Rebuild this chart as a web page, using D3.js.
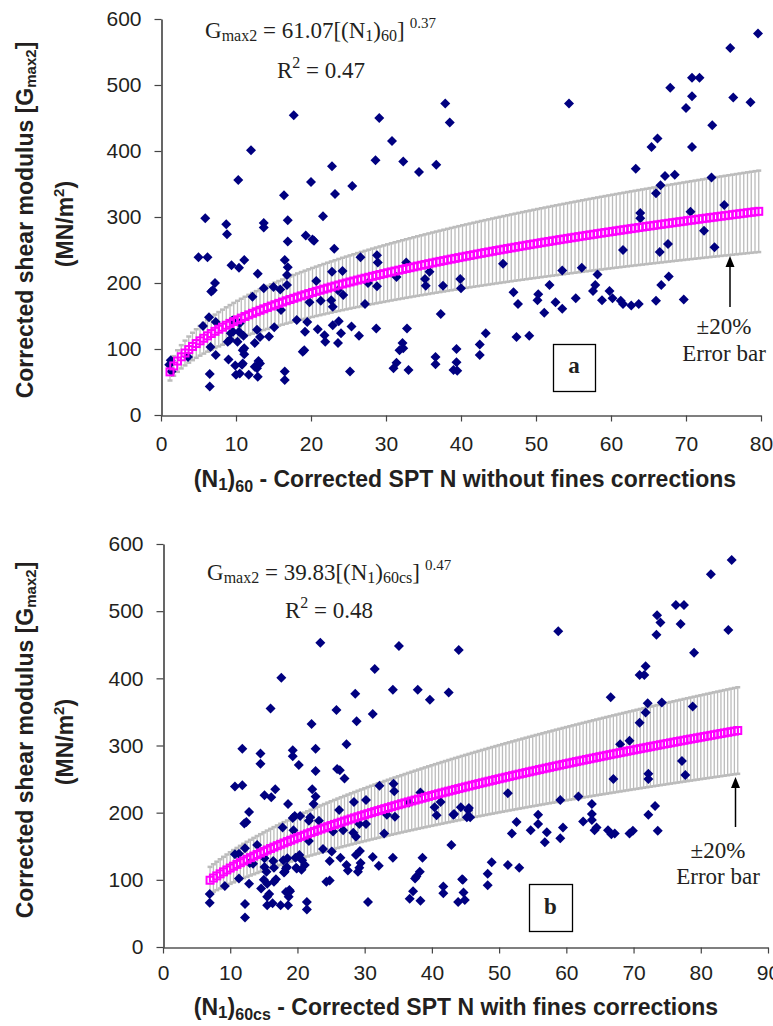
<!DOCTYPE html>
<html>
<head>
<meta charset="utf-8">
<script src="https://cdn.jsdelivr.net/npm/d3@7"></script>
<style>
  body { margin: 0; background: #fff; }
  svg { display: block; }
</style>
</head>
<body>
<svg id="chart" width="773" height="1026"></svg>
<script>
// ---- Data -------------------------------------------------------------
// Panel (a): (N1)60 vs corrected shear modulus Gmax2 (MN/m2)
const pointsA = [
  [5.9,298],[17.7,454],[12.0,401],[10.3,356],[16.4,333],[20.0,353],[22.8,377],[23.2,335],[25.5,347],[21.6,301],
  [28.6,386],[29.1,450],[30.8,415],[32.3,384],[34.4,368],[36.7,379],[37.9,472],[38.5,443],
  [54.4,472],[67.9,496],[70.8,511],[71.8,511],[70.8,483],[70.0,465],[75.9,556],[79.6,578],[76.3,481],[78.6,474],
  [73.5,439],[66.2,419],[65.4,406],[70.8,406],[63.3,373],[67.2,362],[68.5,364],[66.6,348],[66.0,336],[73.4,360],
  [75.1,318],[63.9,306],[63.9,298],[70.6,308],
  [72.4,279],[61.6,250],[66.5,247],[67.6,259],[73.8,254],[45.6,229],[39.9,206],[40.0,192],[53.5,219],[56.1,223],
  [58.2,213],[57.9,197],[57.6,188],[47.0,186],[47.6,168],[50.3,183],[50.2,174],[51.8,197],[51.1,155],[52.6,171],
  [53.5,161],[55.3,177],[58.8,174],[59.8,188],[60.2,177],[61.3,173],[61.6,168],[62.7,166],[63.7,168],[66.0,173],
  [66.7,197],[67.7,210],[69.7,175],[43.3,124],[42.5,107],[42.5,91],[47.4,118],[49.1,120],[39.4,100],[39.4,80],
  [39.0,68],[39.5,67],
  [8.7,289],[8.8,274],[13.7,291],[13.7,284],[16.9,295],[16.9,263],[19.3,272],[20.2,266],[20.4,264],[5.0,239],
  [6.2,239],[9.4,227],[10.4,223],[11.1,235],[16.5,235],[16.9,224],[12.9,214],[16.8,212],[23.1,252],[26.6,239],
  [28.8,242],[28.9,231],[20.7,203],[22.8,217],[24.2,218],[7.2,200],[6.7,187],[6.9,189],[13.7,192],[15.0,194],
  [15.9,190],[16.8,197],[12.2,179],[16.0,159],[19.8,171],[21.3,173],[22.7,174],[22.9,164],[23.6,189],[24.3,182],
  [27.2,168],[27.6,200],[28.8,195],[31.4,209],[32.7,231],[35.2,206],[35.3,196],[35.8,217],[37.6,196],[37.3,153],
  [5.6,135],[6.4,148],[7.3,141],[9.5,143],[9.6,126],[10.5,139],[10.4,126],[9.2,114],[10.2,111],[11.0,120],
  [12.8,129],[13.2,118],[14.4,119],[15.1,133],[18.1,144],[19.5,141],[19.2,126],[18.9,96],[19.1,98],[20.9,130],
  [21.8,121],[21.9,111],[22.9,136],[23.7,142],[24.0,124],[23.6,109],[25.4,134],[26.4,120],[28.7,131],[32.8,131],
  [32.2,109],[32.3,101],[31.8,98],[31.4,79],[31.0,71],[33.0,68],[25.2,66],[36.6,88],[36.6,77],
  [6.6,103],[7.3,91],[9.0,84],[9.9,75],[10.9,78],[11.1,92],[11.1,101],[10.0,61],[10.5,63],[11.7,61],
  [12.9,58],[12.8,71],[13.2,78],[6.5,62],[6.5,43],[16.5,66],[16.5,53],[1.4,66],[1.1,76],[1.3,83],
  [3.6,88],[8.9,111],[9.3,124],[10.9,98],[10.8,76],[12.5,73],[12.5,109],[13.0,82]
];

// Panel (b): (N1)60cs vs corrected shear modulus Gmax2 (MN/m2)
const pointsB = [
  [23.4,453],[17.6,401],[16.0,355],[22.1,332],[25.8,353],[28.6,377],[28.8,336],[31.2,347],[31.5,414],[35.1,448],
  [34.2,383],[37.9,383],[39.7,368],[42.5,379],[44.0,442],[27.3,302],
  [58.8,470],[84.6,576],[81.5,555],[76.3,509],[77.5,509],[77.0,481],[73.5,494],[74.0,483],[73.4,465],[84.1,472],
  [79.0,438],[71.8,418],[70.9,405],[71.6,405],[66.6,372],[72.1,363],[74.2,364],[71.8,349],[70.9,334],[78.8,358],
  [68.0,302],[69.4,307],
  [77.2,277],[77.7,256],[72.2,258],[72.2,250],[67.0,250],[51.3,229],[43.2,197],[45.5,207],[45.7,193],[59.1,219],
  [61.8,224],[63.8,213],[63.8,198],[63.8,189],[62.5,187],[64.5,178],[64.2,174],[66.2,174],[66.7,168],[67.2,169],
  [69.4,169],[69.9,173],[72.2,197],[73.2,210],[73.6,173],[52.6,186],[51.9,169],[55.8,197],[55.8,183],[54.7,174],
  [57.1,171],[56.8,156],[59.1,162],[59.5,178],[42.9,152],[48.9,126],[48.3,109],[48.3,92],[51.3,122],[53.0,118],
  [44.6,100],[44.7,81],[44.9,70],[43.9,67],
  [11.8,295],[14.5,288],[14.5,273],[19.3,293],[19.3,284],[22.7,295],[20.2,271],[22.7,262],[25.9,265],[26.3,263],
  [27.0,251],[10.7,239],[11.8,241],[15.1,226],[16.1,223],[16.7,235],[18.6,213],[22.2,235],[22.7,224],[22.4,213],
  [12.8,201],[12.4,186],[12.1,184],[17.8,178],[19.3,192],[19.6,195],[20.4,195],[21.9,193],[21.7,188],[23.2,188],
  [26.2,204],[28.4,216],[30.2,219],[32.2,240],[34.3,243],[34.4,232],[34.5,194],[33.3,197],[19.4,174],[25.3,172],
  [26.8,174],[28.3,170],[28.7,164],[21.7,158],[29.2,183],[30.2,183],[32.9,169],[36.6,215],[38.3,230],[40.4,208],
  [40.7,196],[41.3,216],[43.3,198],[44.3,208],[45.4,204],[45.2,193],
  [10.7,138],[11.3,139],[12.2,147],[14.0,152],[12.9,125],[13.4,124],[15.1,132],[16.4,128],[15.1,119],[15.4,112],
  [16.5,118],[18.5,132],[18.4,119],[18.1,112],[19.7,133],[19.8,118],[23.8,146],[25.1,142],[24.8,128],[26.4,133],
  [27.3,122],[27.5,114],[28.7,137],[29.3,143],[29.4,125],[29.2,118],[29.0,112],[31.2,134],[32.1,121],[34.2,133],
  [38.6,133],[38.2,112],[37.7,105],[37.5,102],[37.2,83],[36.7,72],[38.3,69],[41.7,90],[41.7,80],[44.5,101],
  [11.3,102],[12.8,94],[14.6,87],[15.0,100],[15.5,94],[16.5,97],[16.8,101],[15.8,79],[15.5,75],[15.5,62],
  [16.3,65],[17.5,62],[18.6,62],[18.7,75],[18.9,83],[21.4,67],[21.4,56],[12.2,64],[12.2,44],[6.95,79],
  [6.95,66],[9.2,91],[24.3,97],[24.8,99],[30.5,67],
  [20.3,137],[20.7,129],[21.1,122],[20.6,115],[17.9,129],[18.3,117],[18.0,111],[19.9,117],[18.3,82],[18.8,85]
];

// Power-law fits  Gmax2 = coef * N^exp, evaluated over the plotted N span
const fitCoef  = [61.07, 39.83];
const fitExp   = [0.37, 0.47];
const fitSpan  = [[1.2, 80], [7, 85.5]];
const fitStep  = 0.5;
const errorPct = 0.20;

// Axis ticks
const yTicks  = [0, 100, 200, 300, 400, 500, 600];
const xTicksA = [0, 10, 20, 30, 40, 50, 60, 70, 80];
const xTicksB = [0, 10, 20, 30, 40, 50, 60, 70, 80, 90];

// Text
const eqCoefText = ["61.07", "39.83"];
const eqExpText  = ["0.37", "0.47"];
const eqSubText  = ["60", "60cs"];
const r2Text     = ["0.47", "0.48"];
const panelTags  = ["a", "b"];
const xTitleRest = [" - Corrected SPT N without fines corrections", " - Corrected SPT N with fines corrections"];

// ---- Layout -----------------------------------------------------------
const layout = [
  { left: 161, right: 761, top: 19,  bottom: 415, xMax: 80, xTicks: xTicksA, xPad: 15,
    yt1: 220, yt2: 224, xtX: 465, xtY: 487, eqX: 205, eqY: 38, r2X: 277, r2Y: 78,
    box: [553, 344, 42, 47], tagY: 373, errX: 724, errY1: 334, errY2: 361, arX: 730, arTip: 256, arEnd: 307 },
  { left: 163, right: 768, top: 544, bottom: 947, xMax: 90, xTicks: xTicksB, xPad: 12,
    yt1: 740, yt2: 742, xtX: 456, xtY: 1015, eqX: 207, eqY: 580, r2X: 285, r2Y: 618,
    box: [529, 884, 43, 47], tagY: 914, errX: 718, errY1: 858, errY2: 884, arX: 735.5, arTip: 777, arEnd: 827 }
];

const SANS  = "'Liberation Sans', Arial, sans-serif";
const SERIF = "'Liberation Serif', 'Times New Roman', serif";
const INK   = "#231f20";

const svg = d3.select("#chart");

function drawPanel(i) {
  const L = layout[i];
  const pts = i === 0 ? pointsA : pointsB;
  const x = d3.scaleLinear().domain([0, L.xMax]).range([L.left, L.right]);
  const y = d3.scaleLinear().domain([0, 600]).range([L.bottom, L.top]);
  const g = svg.append("g");

  // fitted curve samples
  const fit = d3.range(fitSpan[i][0], fitSpan[i][1] + 1e-9, fitStep)
    .map(n => ({ n, g: fitCoef[i] * Math.pow(n, fitExp[i]) }));

  // ±20% error bars
  const eb = g.append("g").attr("stroke", "#bcbcbc").attr("stroke-width", 1.3);
  fit.forEach(d => {
    const cx = x(d.n), lo = y(d.g * (1 - errorPct)), hi = y(d.g * (1 + errorPct));
    eb.append("line").attr("x1", cx).attr("x2", cx).attr("y1", lo).attr("y2", hi);
    eb.append("line").attr("x1", cx - 2.5).attr("x2", cx + 2.5).attr("y1", hi).attr("y2", hi).attr("stroke-width", 2.5);
    eb.append("line").attr("x1", cx - 2.5).attr("x2", cx + 2.5).attr("y1", lo).attr("y2", lo).attr("stroke-width", 2.5);
  });

  // measured points
  g.append("g").selectAll("path").data(pts).join("path")
    .attr("d", "M0,-5L5,0L0,5L-5,0Z")
    .attr("transform", d => `translate(${x(d[0])},${y(d[1])})`)
    .attr("fill", "#000080");

  // fitted curve markers
  g.append("g").selectAll("rect").data(fit).join("rect")
    .attr("x", d => x(d.n) - 3.5).attr("y", d => y(d.g) - 3.5)
    .attr("width", 7).attr("height", 7)
    .attr("fill", "none").attr("stroke", "#ff00ff").attr("stroke-width", 2);

  // axes
  const yAxis = g.append("g").attr("transform", `translate(${L.left + 0.5},0)`)
    .call(d3.axisLeft(y).tickValues(yTicks).tickSize(7).tickSizeOuter(0).tickPadding(13));
  const xAxis = g.append("g").attr("transform", `translate(0,${L.bottom + 0.5})`)
    .call(d3.axisBottom(x).tickValues(L.xTicks).tickSize(6).tickSizeOuter(0).tickPadding(L.xPad));
  [yAxis, xAxis].forEach(ax => {
    ax.select(".domain").attr("stroke", "#000").attr("stroke-width", 1.2);
    ax.selectAll(".tick line").attr("stroke", "#444").attr("stroke-width", 1.2);
    ax.selectAll(".tick text").attr("fill", INK).style("font-family", SANS).style("font-size", "21px");
  });

  // y-axis title (two lines)
  const yt = svg.append("text").attr("transform", `translate(33,${L.yt1}) rotate(-90)`)
    .attr("text-anchor", "middle").attr("fill", INK)
    .style("font-family", SANS).style("font-weight", "bold").style("font-size", "23px");
  yt.append("tspan").text("Corrected shear modulus [G");
  yt.append("tspan").attr("dy", 3).style("font-size", "15px").text("max2");
  yt.append("tspan").attr("dy", -3).text("]");
  const yt2 = svg.append("text").attr("transform", `translate(73,${L.yt2}) rotate(-90)`)
    .attr("text-anchor", "middle").attr("fill", INK)
    .style("font-family", SANS).style("font-weight", "bold").style("font-size", "23px");
  yt2.append("tspan").text("(MN/m");
  yt2.append("tspan").attr("dy", -9).style("font-size", "15px").text("2");
  yt2.append("tspan").attr("dy", 9).text(")");

  // x-axis title
  const xt = svg.append("text").attr("x", L.xtX).attr("y", L.xtY)
    .attr("text-anchor", "middle").attr("fill", INK)
    .style("font-family", SANS).style("font-weight", "bold").style("font-size", "23px");
  xt.append("tspan").text("(N");
  xt.append("tspan").attr("dy", 3).style("font-size", "17px").text("1");
  xt.append("tspan").attr("dy", -3).text(")");
  xt.append("tspan").attr("dy", 5).style("font-size", "16px").text(eqSubText[i]);
  xt.append("tspan").attr("dy", -5).text(xTitleRest[i]);

  // regression equation
  const eq = svg.append("text").attr("x", L.eqX).attr("y", L.eqY).attr("fill", INK)
    .style("font-family", SERIF).style("font-size", "23px");
  eq.append("tspan").text("G");
  eq.append("tspan").attr("dy", 3).style("font-size", "16px").text("max2");
  eq.append("tspan").attr("dy", -3).text(` = ${eqCoefText[i]}[(N`);
  eq.append("tspan").attr("dy", 3).style("font-size", "16px").text("1");
  eq.append("tspan").attr("dy", -3).text(")");
  eq.append("tspan").attr("dy", 3).style("font-size", "16px").text(eqSubText[i]);
  eq.append("tspan").attr("dy", -3).text("]");
  eq.append("tspan").attr("dy", -10).attr("dx", 5).style("font-size", "15px").text(eqExpText[i]);

  const r2 = svg.append("text").attr("x", L.r2X).attr("y", L.r2Y).attr("fill", INK)
    .style("font-family", SERIF).style("font-size", "23px");
  r2.append("tspan").text("R");
  r2.append("tspan").attr("dy", -10).style("font-size", "16px").text("2");
  r2.append("tspan").attr("dy", 10).text(` = ${r2Text[i]}`);

  // panel tag box
  svg.append("rect").attr("x", L.box[0] + 0.5).attr("y", L.box[1] + 0.5)
    .attr("width", L.box[2]).attr("height", L.box[3])
    .attr("fill", "#fff").attr("stroke", "#000").attr("stroke-width", 1.3);
  svg.append("text").attr("x", L.box[0] + L.box[2] / 2).attr("y", L.tagY)
    .attr("text-anchor", "middle").attr("fill", INK)
    .style("font-family", SERIF).style("font-weight", "bold").style("font-size", "23px")
    .text(panelTags[i]);

  // error bar note and arrow
  svg.append("text").attr("x", L.errX).attr("y", L.errY1).attr("text-anchor", "middle").attr("fill", INK)
    .style("font-family", SERIF).style("font-size", "23px").text("±20%");
  svg.append("text").attr("x", L.errX).attr("y", L.errY2).attr("text-anchor", "middle").attr("fill", INK)
    .style("font-family", SERIF).style("font-size", "23px").text("Error bar");
  svg.append("line").attr("x1", L.arX).attr("x2", L.arX).attr("y1", L.arEnd).attr("y2", L.arTip + 8)
    .attr("stroke", "#000").attr("stroke-width", 1.5);
  svg.append("path")
    .attr("d", `M${L.arX},${L.arTip}L${L.arX + 4.5},${L.arTip + 11}L${L.arX - 4.5},${L.arTip + 11}Z`)
    .attr("fill", "#000");
}

drawPanel(0);
drawPanel(1);
</script>
</body>
</html>
